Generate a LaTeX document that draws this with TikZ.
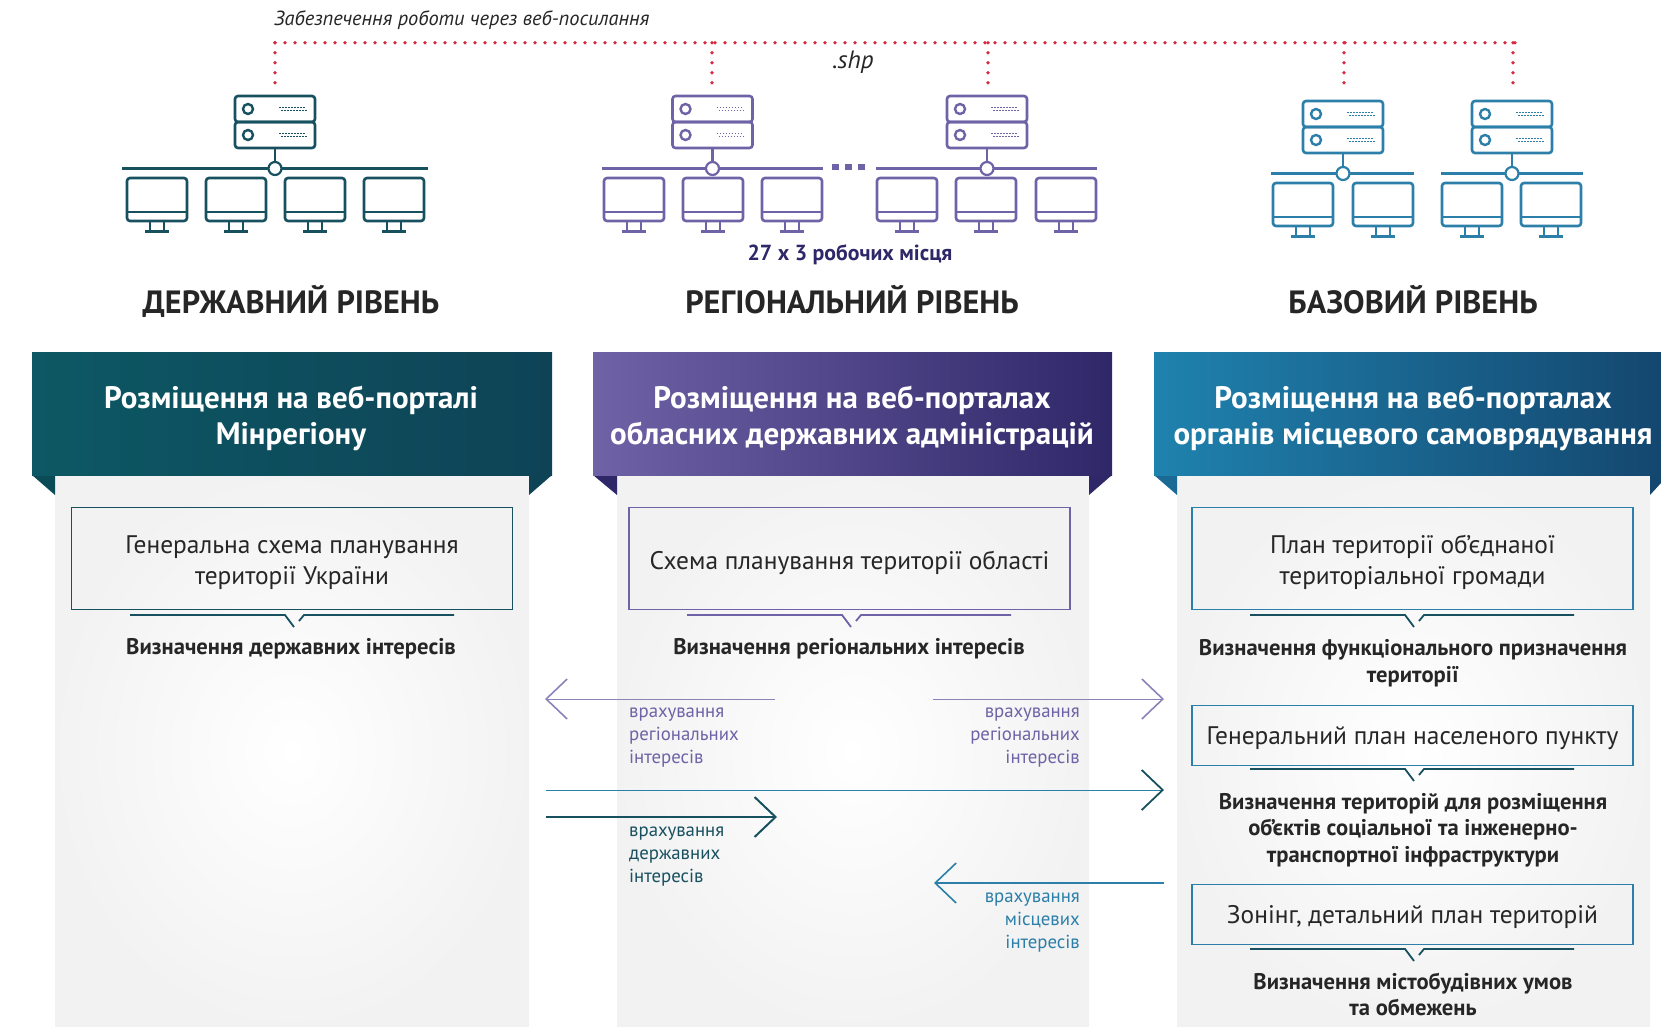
\documentclass[tikz,border=0pt]{standalone}
\usepackage{fontspec}
\setmainfont{PT Sans}
\usetikzlibrary{arrows.meta}
\definecolor{tealc}{HTML}{17505F}
\definecolor{violc}{HTML}{6F62A6}
\definecolor{bluec}{HTML}{2B7FA8}
\definecolor{navyc}{HTML}{2E2768}
\definecolor{inkc}{HTML}{262626}
\definecolor{dotc}{HTML}{D62B40}
\definecolor{teala}{HTML}{0D5864}
\definecolor{tealb}{HTML}{0E4356}
\definecolor{bluea}{HTML}{1F82AE}
\definecolor{blueb}{HTML}{14476F}
\tikzset{
  monitor/.pic={
    \draw[line width=2.6,rounded corners=3] (0,0) rectangle (60,43);
    \draw[line width=2.4] (0,34) -- (60,34);
    \draw[line width=2.4] (23,43) -- (23,53) (37,43) -- (37,53);
    \draw[line width=2.6] (18,53.5) -- (42,53.5);
  },
  server/.pic={
    \draw[line width=2.6,rounded corners=3] (-40,-72.5) rectangle (40,-46.5);
    \draw[line width=2.6,rounded corners=3] (-40,-46.5) rectangle (40,-20.5);
    \draw[line width=2.4] (-27,-59.5) circle [radius=5];
    \draw[line width=2.4] (-27,-33.5) circle [radius=5];
    \draw[line width=1.6,dash pattern=on 1.5 off 1.5] (4,-61) -- (30,-61) (6,-58) -- (32,-58);
    \draw[line width=1.6,dash pattern=on 1.5 off 1.5] (4,-35) -- (30,-35) (6,-32) -- (32,-32);
    \draw[line width=2.4] (0,-20.5) -- (0,-6.5);
    \draw[line width=2.2,fill=white] (0,0) circle [radius=6.5];
  },
  callout/.pic={
    \draw[line width=1.8] (-164,0) -- (-9,0) -- (0,12);
    \draw[line width=1.8] (5,6) -- (10,0) -- (160,0);
  },
  bus/.style={line width=2.4},
  dots/.style={dotc,line width=3.8,line cap=round,dash pattern=on 0pt off 10pt},
  title/.style={anchor=base,text=inkc,font=\fontsize{32.2}{36}\selectfont\bfseries},
  headtxt/.style={text=white,align=center,font=\fontsize{31}{36}\selectfont\bfseries},
  boxtxt/.style={draw,line width=1.6,minimum width=441,minimum height=#1},
  boxlbl/.style={text=inkc,align=center,font=\fontsize{25.4}{31}\selectfont},
  captxt/.style={text=inkc,align=center,font=\fontsize{22.6}{26.5}\selectfont\bfseries},
  lbl/.style={align=left,font=\fontsize{18.8}{23}\selectfont},
  lblr/.style={align=right,font=\fontsize{18.8}{23}\selectfont},
  panel/.style={shading=radial,inner color=white,outer color=black!5},
  link/.style={-{Straight Barb[length=21,width=40,line width=2]}},
  thinlink/.style={-{Straight Barb[length=21,width=40,line width=1.6]}},
  mixlink/.style={-{Straight Barb[length=21,width=40,line width=1.8,color=tealc]}}
}
\begin{document}
\begin{tikzpicture}[x=1pt,y=-1pt]
  \useasboundingbox (0,0) rectangle (1661,1027);

  \path[panel] (55,475) rectangle (529,1027);
  \path[panel] (617,475) rectangle (1089,1027);
  \path[panel] (1177,475) rectangle (1650,1027);

  \fill[teala!85!black] (32,475) -- (55,495) -- (55,470) -- cycle;
  \fill[tealb] (552,475) -- (529,495) -- (529,470) -- cycle;
  \fill[navyc] (593,475) -- (617,495) -- (617,470) -- cycle;
  \fill[navyc] (1112,475) -- (1089,495) -- (1089,470) -- cycle;
  \fill[bluea!60!blueb] (1154,475) -- (1177,495) -- (1177,470) -- cycle;
  \fill[blueb] (1661,483) -- (1650,495) -- (1650,470) -- (1661,470) -- cycle;
  \shade[left color=teala,right color=tealb] (32,352) rectangle (552,475);
  \shade[left color=violc,right color=navyc] (593,352) rectangle (1112,475);
  \shade[left color=bluea,right color=blueb] (1154,352) rectangle (1661,475);

  \node (h1) [headtxt] at (291,418) {Розміщення на веб-порталі\\Мінрегіону};
  \node (h2) [headtxt] at (852,418) {Розміщення на веб-порталах\\обласних державних адміністрацій};
  \node (h3) [headtxt] at (1413,418) {Розміщення на веб-порталах\\органів місцевого самоврядування};

  \coordinate (d0) at (275,42.7);
  \coordinate (d1) at (1516,42.7);
  \coordinate (d2) at (712,42.7);
  \coordinate (d3) at (988,42.7);
  \coordinate (d4) at (1344,42.7);
  \coordinate (d5) at (1513,42.7);
  \draw[dots] (d0) -- (d1);
  \draw[dots] (d0) -- ++(0,41);
  \draw[dots] (d2) -- ++(0,41);
  \draw[dots] (d3) -- ++(0,41);
  \draw[dots] (d4) -- ++(0,41);
  \draw[dots] (d5) -- ++(0,41);
  \node (web) [anchor=west,inner sep=0,text=inkc,font=\fontsize{20.4}{23}\selectfont\itshape] at (274,20) {Забезпечення роботи через веб-посилання};
  \node (shp) [text=inkc,font=\fontsize{25}{28}\selectfont\itshape] at (853,62) {.shp};

  \draw[bus,tealc] (122,168.5) -- (428,168.5);
  \pic[color=tealc] at (275,168.5) {server};
  \pic[color=tealc] at (127,178) {monitor};
  \pic[color=tealc] at (206,178) {monitor};
  \pic[color=tealc] at (285,178) {monitor};
  \pic[color=tealc] at (364,178) {monitor};

  \draw[bus,violc] (602,168.5) -- (823,168.5);
  \draw[bus,violc] (876,168.5) -- (1097,168.5);
  \draw[violc,line width=6,dash pattern=on 7 off 6] (832,167.5) -- (868,167.5);
  \pic[color=violc] at (712.5,168.5) {server};
  \pic[color=violc] at (987,168.5) {server};
  \pic[color=violc] at (604,178) {monitor};
  \pic[color=violc] at (683,178) {monitor};
  \pic[color=violc] at (762,178) {monitor};
  \pic[color=violc] at (877,178) {monitor};
  \pic[color=violc] at (956,178) {monitor};
  \pic[color=violc] at (1036,178) {monitor};

  \draw[bus,bluec] (1271,173.5) -- (1414,173.5);
  \draw[bus,bluec] (1441,173.5) -- (1583,173.5);
  \pic[color=bluec] at (1343,173.5) {server};
  \pic[color=bluec] at (1512,173.5) {server};
  \pic[color=bluec] at (1273,183) {monitor};
  \pic[color=bluec] at (1353,183) {monitor};
  \pic[color=bluec] at (1442,183) {monitor};
  \pic[color=bluec] at (1521,183) {monitor};

  \node (workplaces) [text=navyc,font=\fontsize{21.8}{24}\selectfont\bfseries] at (850,255) {27 х 3 робочих місця};

  \node (t1) [title] at (291,313.5) {ДЕРЖАВНИЙ РІВЕНЬ};
  \node (t2) [title] at (852,313.5) {РЕГІОНАЛЬНИЙ РІВЕНЬ};
  \node (t3) [title] at (1413,313.5) {БАЗОВИЙ РІВЕНЬ};

  \node (b1) [boxtxt=102,tealc] at (292,558.5) {};
  \node (b2) [boxtxt=102,violc] at (849.5,558.5) {};
  \node (b3) [boxtxt=102,bluec] at (1412.5,558.5) {};
  \node (b4) [boxtxt=60,bluec] at (1412.5,735.5) {};
  \node (b5) [boxtxt=60,bluec] at (1412.5,914.5) {};
  \node (n1) [boxlbl] at (292,563) {Генеральна схема планування\\території України};
  \node (n2) [boxlbl] at (849.5,563) {Схема планування території області};
  \node (n3) [boxlbl] at (1412.5,562) {План території об’єднаної\\територіальної громади};
  \node (n4) [boxlbl] at (1412.5,738) {Генеральний план населеного пункту};
  \node (n5) [boxlbl] at (1412.5,917) {Зонінг, детальний план територій};

  \pic[color=tealc] at (294,615) {callout};
  \pic[color=violc] at (851,615) {callout};
  \pic[color=tealc] at (1414,615) {callout};
  \pic[color=tealc] at (1414,769) {callout};
  \pic[color=tealc] at (1414,949) {callout};

  \node (c1) [captxt] at (291,649) {Визначення державних інтересів};
  \node (c2) [captxt] at (849,649) {Визначення регіональних інтересів};
  \node (c3) [captxt] at (1413,663) {Визначення функціонального призначення\\території};
  \node (c4) [captxt] at (1413,830) {Визначення територій для розміщення\\об’єктів соціальної та інженерно-\\транспортної інфраструктури};
  \node (c5) [captxt] at (1413,994.5) {Визначення містобудівних умов\\та обмежень};

  \coordinate (a1s) at (775,699);
  \coordinate (a1e) at (545,699);
  \coordinate (a2s) at (933,699);
  \coordinate (a2e) at (1164,699);
  \coordinate (a3s) at (546,790);
  \coordinate (a3e) at (1164,790);
  \coordinate (a4s) at (546,817);
  \coordinate (a4e) at (777,817);
  \coordinate (a5s) at (1164,883);
  \coordinate (a5e) at (934,883);
  \draw[thinlink,violc!80,line width=1] (a1s) -- (a1e);
  \draw[thinlink,violc!80,line width=1] (a2s) -- (a2e);
  \draw[mixlink,bluec,line width=1] (a3s) -- (a3e);
  \draw[link,tealc,line width=2.2] (a4s) -- (a4e);
  \draw[thinlink,bluec,line width=1.6] (a5s) -- (a5e);

  \node (l1) [lbl,violc,anchor=north west,inner sep=0] at (629,708) {врахування\\регіональних\\інтересів};
  \node (l2) [lblr,violc,anchor=north east,inner sep=0] at (1080,708) {врахування\\регіональних\\інтересів};
  \node (l3) [lbl,tealc,anchor=north west,inner sep=0] at (629,827) {врахування\\державних\\інтересів};
  \node (l4) [lblr,bluec,anchor=north east,inner sep=0] at (1080,893) {врахування\\місцевих\\інтересів};
\end{tikzpicture}
\end{document}
